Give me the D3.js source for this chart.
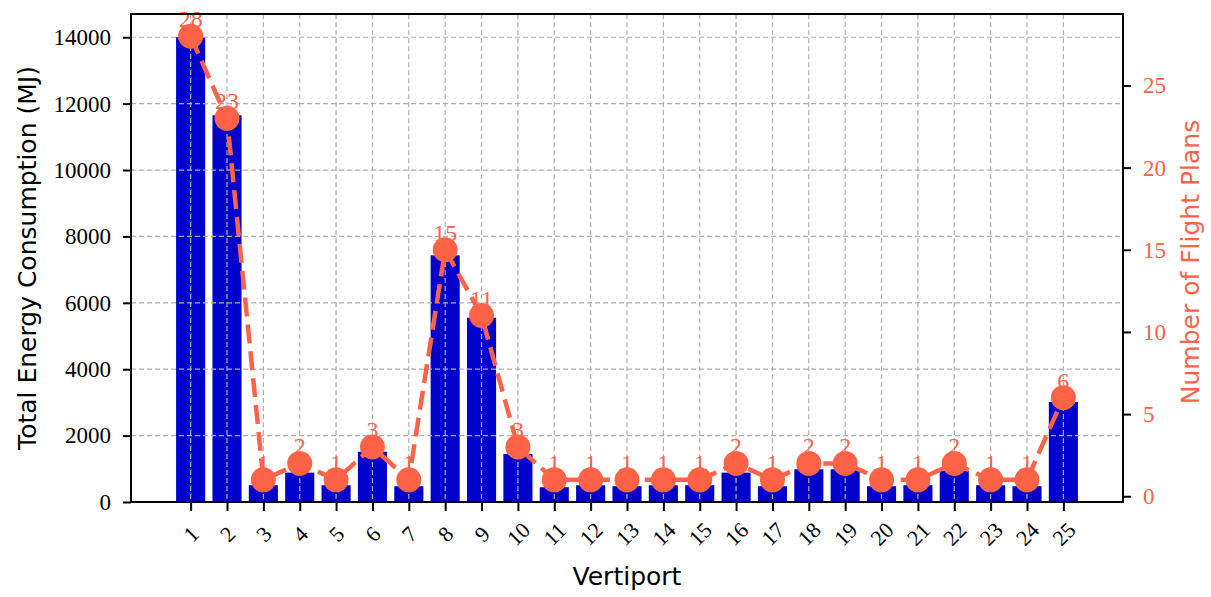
<!DOCTYPE html>
<html>
<head>
<meta charset="utf-8">
<script src="https://cdn.jsdelivr.net/npm/d3@7"></script>
<style>
  body { margin: 0; background: #fff; overflow: hidden; }
  svg { display: block; }
</style>
</head>
<body>
<div id="chart"></div>
<script>
// data
const vertiports = d3.range(1, 26);
const energy = [14000, 11650, 505, 885, 505, 1515, 475, 7430, 5550, 1445,
                445, 505, 475, 505, 505, 885, 475, 985, 985, 475,
                505, 935, 505, 475, 3015];
const flightPlans = [28, 23, 1, 2, 1, 3, 1, 15, 11, 3,
                     1, 1, 1, 1, 1, 2, 1, 2, 2, 1,
                     1, 2, 1, 1, 6];
const leftTicks = [0, 2000, 4000, 6000, 8000, 10000, 12000, 14000];
const rightTicks = [0, 5, 10, 15, 20, 25];

const width = 1211;
const height = 597;
const margin = {top: 14, right: 88, bottom: 95, left: 131};
const innerWidth = width - margin.left - margin.right;
const innerHeight = height - margin.top - margin.bottom;

const serif = "'Liberation Serif', 'DejaVu Serif', serif";
const sans = "'DejaVu Sans', 'Open Sans', sans-serif";
const orange = "#ff6347";

const svg = d3.select("#chart")
    .append("svg")
    .attr("width", width)
    .attr("height", height);

const innerChart = svg.append("g")
    .attr("transform", `translate(${margin.left}, ${margin.top})`);

const xScale = d3.scaleLinear()
    .domain([-0.64, 26.64])
    .range([0, innerWidth]);

const yScale = d3.scaleLinear()
    .domain([0, 14700])
    .range([innerHeight, 0]);

const y2Scale = d3.scaleLinear()
    .domain([-0.35, 29.35])
    .range([innerHeight, 0]);

const barWidth = xScale(0.8) - xScale(0);

// bars
innerChart.selectAll(".bar")
    .data(energy)
    .join("rect")
    .attr("class", "bar")
    .attr("x", (d, i) => xScale(vertiports[i]) - barWidth / 2)
    .attr("y", d => yScale(d))
    .attr("width", barWidth)
    .attr("height", d => innerHeight - yScale(d))
    .attr("fill", "#0000cc");

// grid (sits on top of bars like in the original)
innerChart.selectAll(".vgrid")
    .data(vertiports)
    .join("line")
    .attr("x1", d => xScale(d))
    .attr("x2", d => xScale(d))
    .attr("y1", 0)
    .attr("y2", innerHeight)
    .attr("stroke", "#b0b0b0")
    .attr("stroke-width", 1.2)
    .attr("stroke-dasharray", "5,3");

innerChart.selectAll(".hgrid")
    .data(leftTicks)
    .join("line")
    .attr("x1", 0)
    .attr("x2", innerWidth)
    .attr("y1", d => yScale(d))
    .attr("y2", d => yScale(d))
    .attr("stroke", "#b0b0b0")
    .attr("stroke-width", 1.2)
    .attr("stroke-dasharray", "5,3");

// flight plan line
const lineGenerator = d3.line()
    .x((d, i) => xScale(vertiports[i]))
    .y(d => y2Scale(d));

innerChart.append("path")
    .attr("d", lineGenerator(flightPlans))
    .attr("fill", "none")
    .attr("stroke", orange)
    .attr("stroke-width", 4.5)
    .attr("stroke-dasharray", "19,8");

innerChart.selectAll(".dot")
    .data(flightPlans)
    .join("circle")
    .attr("cx", (d, i) => xScale(vertiports[i]))
    .attr("cy", d => y2Scale(d))
    .attr("r", 12.5)
    .attr("fill", orange);

innerChart.selectAll(".num")
    .data(flightPlans)
    .join("text")
    .text(d => d)
    .attr("x", (d, i) => xScale(vertiports[i]))
    .attr("y", d => y2Scale(d) - 9)
    .attr("text-anchor", "middle")
    .attr("fill", orange)
    .attr("font-family", serif)
    .attr("font-size", 24);

// frame
innerChart.append("rect")
    .attr("width", innerWidth)
    .attr("height", innerHeight)
    .attr("fill", "none")
    .attr("stroke", "black")
    .attr("stroke-width", 2);

// axes
const yAxis = d3.axisLeft(yScale).tickValues(leftTicks).tickSize(8).tickPadding(12)
    .tickFormat(d3.format("d"));
const y2Axis = d3.axisRight(y2Scale).tickValues(rightTicks).tickSize(8).tickPadding(12);
const xAxis = d3.axisBottom(xScale).tickValues(vertiports).tickSize(9).tickFormat(d3.format("d"));

const gy = innerChart.append("g").call(yAxis);
const gy2 = innerChart.append("g")
    .attr("transform", `translate(${innerWidth}, 0)`)
    .call(y2Axis);
const gx = innerChart.append("g")
    .attr("transform", `translate(0, ${innerHeight})`)
    .call(xAxis);

[gy, gy2, gx].forEach(g => {
    g.select(".domain").remove();
    g.selectAll(".tick line").attr("stroke", "black").attr("stroke-width", 2);
    g.selectAll("text").attr("font-family", serif).attr("font-size", 23).attr("fill", "black");
});
gy2.selectAll("text").attr("fill", orange);

gx.selectAll(".tick text")
    .attr("y", 0)
    .attr("dy", null)
    .attr("font-size", 22)
    .attr("text-anchor", "middle")
    .attr("dominant-baseline", "central")
    .attr("transform", "translate(0, 32) rotate(-45)");

// axis labels
svg.append("text")
    .text("Vertiport")
    .attr("x", margin.left + innerWidth / 2)
    .attr("y", 585)
    .attr("text-anchor", "middle")
    .attr("font-family", sans)
    .attr("font-size", 25);

svg.append("text")
    .text("Total Energy Consumption (MJ)")
    .attr("transform", `translate(36, 258) rotate(-90)`)
    .attr("text-anchor", "middle")
    .attr("font-family", sans)
    .attr("font-size", 25);

svg.append("text")
    .text("Number of Flight Plans")
    .attr("transform", `translate(1199, 262) rotate(-90)`)
    .attr("text-anchor", "middle")
    .attr("fill", orange)
    .attr("font-family", sans)
    .attr("font-size", 25);
</script>
</body>
</html>
